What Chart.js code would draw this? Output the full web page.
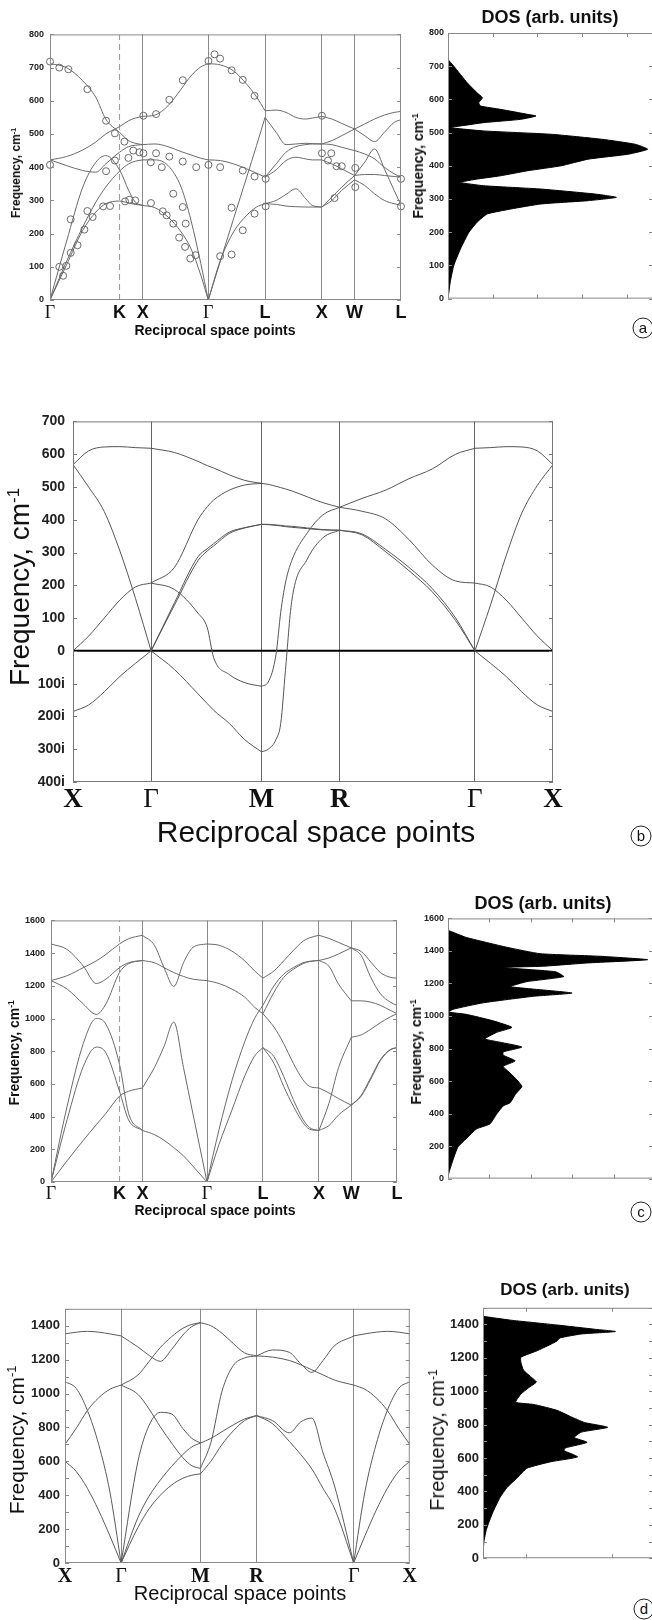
<!DOCTYPE html>
<html>
<head>
<meta charset="utf-8">
<title>Phonon dispersion and DOS</title>
<script src="https://cdn.jsdelivr.net/npm/chart.js@4.4.1/dist/chart.umd.min.js"></script>
<style>
  html, body { margin: 0; padding: 0; background: #fff; }
  body { position: relative; width: 652px; height: 1620px; overflow: hidden; }
  canvas { position: absolute; }
  .lbl { position: absolute; white-space: nowrap; color: #111; font-family: "Liberation Sans", Arial, sans-serif; line-height: 1; transform: translate(-50%, -50%); }
  .v { transform: translate(-50%, -50%) rotate(-90deg); }
  .b { font-weight: bold; }
  .circ { position: absolute; width: 19px; height: 19px; border: 1px solid #222; border-radius: 50%; font: 15px "Liberation Sans", Arial, sans-serif; line-height: 18px; text-align: center; transform: translate(-50%, -50%); color: #111; }
  sup { font-size: 60%; vertical-align: 0.6em; line-height: 0; }
</style>
</head>
<body>
<canvas id="aBand"></canvas>
<canvas id="aDos"></canvas>
<canvas id="bBand"></canvas>
<canvas id="cBand"></canvas>
<canvas id="cDos"></canvas>
<canvas id="dBand"></canvas>
<canvas id="dDos"></canvas>

<div class="lbl v b" style="left:16px;top:173px;font-size:12px">Frequency, cm<sup>-1</sup></div>
<div class="lbl b" style="left:215px;top:330px;font-size:14px">Reciprocal space points</div>
<div class="lbl b" style="left:550px;top:17px;font-size:18px">DOS (arb. units)</div>
<div class="lbl v b" style="left:418px;top:166px;font-size:14px">Frequency, cm<sup>-1</sup></div>
<div class="circ" style="left:643px;top:328px">a</div>

<div class="lbl v" style="left:20px;top:587px;font-size:28px">Frequency, cm<sup>-1</sup></div>
<div class="lbl" style="left:316px;top:832px;font-size:30px">Reciprocal space points</div>
<div class="circ" style="left:641px;top:836px">b</div>

<div class="lbl v b" style="left:14px;top:1053px;font-size:14px">Frequency, cm<sup>-1</sup></div>
<div class="lbl b" style="left:215px;top:1210px;font-size:14px">Reciprocal space points</div>
<div class="lbl b" style="left:543px;top:903px;font-size:18px">DOS (arb. units)</div>
<div class="lbl v b" style="left:416px;top:1052px;font-size:14px">Frequency, cm<sup>-1</sup></div>
<div class="circ" style="left:641px;top:1212px">c</div>

<div class="lbl v" style="left:16px;top:1440px;font-size:21px">Frequency, cm<sup>-1</sup></div>
<div class="lbl" style="left:240px;top:1593px;font-size:20px">Reciprocal space points</div>
<div class="lbl b" style="left:565px;top:1289px;font-size:17px">DOS (arb. units)</div>
<div class="lbl v" style="left:437px;top:1440px;font-size:20px">Frequency, cm<sup>-1</sup></div>
<div class="circ" style="left:644px;top:1609px">d</div>

<script>
// high symmetry points (path length along the k path)
const FCC_K = [0, 1.061, 1.414, 2.414, 3.280, 4.146, 4.646, 5.354];
const FCC_LAB = ['Γ', 'K', 'X', 'Γ', 'L', 'X', 'W', 'L'];
const SC_K = [0, 0.5, 1.207, 1.707, 2.573, 3.073];
const SC_LAB = ['X', 'Γ', 'M', 'R', 'Γ', 'X'];

// ---- panel (a): bands, one array of k per segment + branch frequencies
const aK1 = [0, 0.25, 0.5, 0.7, 0.85, 1.06, 1.2, 1.3, 1.414];
const aB1 = [
  [712, 700, 660, 610, 545, 505, 480, 472, 468],
  [422, 432, 452, 476, 500, 522, 540, 548, 553],
  [422, 405, 390, 385, 410, 445, 462, 466, 468],
  [0, 115, 220, 295, 340, 388, 410, 418, 422],
  [0, 105, 210, 265, 290, 298, 292, 288, 285],
  [0, 175, 340, 415, 435, 392, 330, 295, 285]
];
const aK2 = [1.414, 1.6, 1.8, 2.0, 2.15, 2.3, 2.414];
const aB2 = [
  [553, 557, 585, 635, 675, 702, 712],
  [468, 470, 462, 447, 437, 427, 422],
  [422, 422, 405, 340, 240, 110, 0],
  [285, 278, 250, 205, 155, 75, 0]
];
const aK3 = [2.414, 2.6, 2.8, 3.0, 3.15, 3.28];
const aB3 = [
  [712, 708, 690, 650, 612, 570],
  [422, 420, 410, 395, 382, 370],
  [0, 118, 245, 370, 465, 550],
  [0, 120, 205, 255, 280, 290]
];
const aK4 = [3.28, 3.45, 3.6, 3.75, 3.9, 4.0, 4.146];
const aB4 = [
  [570, 572, 565, 550, 545, 548, 553],
  [550, 505, 468, 470, 472, 471, 470],
  [370, 410, 445, 462, 468, 470, 470],
  [370, 392, 420, 430, 425, 422, 422],
  [290, 300, 318, 335, 305, 285, 280],
  [290, 288, 283, 281, 280, 280, 280]
];
const aK5 = [4.146, 4.3, 4.45, 4.646];
const aB5 = [
  [553, 545, 532, 515],
  [470, 480, 495, 515],
  [470, 468, 460, 450],
  [422, 410, 395, 375],
  [280, 300, 330, 362],
  [280, 310, 340, 375]
];
const aK6 = [4.646, 4.8, 4.95, 5.1, 5.25, 5.354];
const aB6 = [
  [515, 530, 545, 557, 565, 568],
  [515, 495, 477, 505, 535, 543],
  [450, 440, 425, 400, 380, 370],
  [375, 415, 455, 395, 330, 285],
  [362, 345, 320, 300, 290, 285],
  [375, 378, 378, 375, 372, 370]
];
// experimental points (open circles)
const aExpK = [0, 0.142, 0.28, 0.57, 0.855, 0.99, 1.135, 1.27, 1.364, 1.425,
  0, 0.855, 0.99, 1.196, 1.618, 1.537, 1.705, 1.82, 2.025, 2.23,
  2.417, 2.595, 1.425, 1.618, 1.82, 2.025, 2.417, 2.509, 2.595, 2.77,
  2.94, 3.12, 2.94, 3.12, 3.29, 4.148, 4.148, 4.29, 4.24, 4.37,
  4.45, 4.657, 4.34, 4.657, 5.354, 5.354, 3.29, 3.12, 2.94, 2.77,
  2.77, 2.595, 0.142, 0.2, 0.25, 0.316, 0.316, 0.42, 0.524, 0.57,
  0.65, 0.81, 0.916, 1.145, 1.21, 1.30, 1.54, 1.72, 1.78, 1.88,
  1.97, 2.06, 2.14, 2.22, 1.88, 2.025, 2.07];
const aExpF = [718, 700, 695, 635, 540, 502, 477, 450, 445, 442,
  407, 388, 420, 428, 442, 415, 400, 432, 417, 400,
  407, 400, 555, 560, 603, 662, 720, 740, 727, 692,
  663, 615, 390, 372, 365, 555, 442, 442, 420, 403,
  403, 398, 307, 340, 365, 282, 282, 260, 210, 278,
  137, 132, 100, 73, 103, 142, 243, 165, 212, 268,
  250, 282, 283, 297, 302, 300, 292, 267, 255, 230,
  188, 160, 125, 135, 320, 280, 230];
// DOS (a)
const aDosF = [0, 20, 50, 100, 150, 200, 230, 255, 270, 285, 295, 305, 315, 330, 340, 350, 360, 370, 385, 400,
  420, 435, 450, 465, 480, 495, 505, 515, 520, 530, 540, 550, 555, 570, 580, 590, 605, 620, 650, 700, 720];
const aDosV = [0, 0.02, 0.05, 0.13, 0.28, 0.47, 0.65, 0.88, 1.41, 2.08, 3.14, 3.77, 3.29, 2.08, 0.80, 0.28, 0.65, 1.18, 1.78, 2.53,
  3.14, 4.04, 4.47, 4.19, 3.44, 2.31, 0.80, 0.05, 0.28, 0.80, 1.63, 1.97, 1.78, 1.18, 0.73, 0.69, 0.77, 0.65, 0.43, 0.13, 0];

// ---- panel (b)
const bK1 = [0, 0.1, 0.2, 0.3, 0.4, 0.5];
const bB1 = [
  [568, 610, 622, 623, 620, 618],
  [568, 500, 425, 305, 160, 0],
  [0, 45, 100, 155, 195, 207],
  [-185, -165, -125, -78, -38, 0]
];
const bK2 = [0.5, 0.65, 0.8, 0.86, 0.9, 1.0, 1.1, 1.207];
const bB2 = [
  [618, 605, 578, 565, 558, 537, 520, 511],
  [207, 255, 400, 440, 460, 490, 506, 511],
  [0, 147, 287, 312, 327, 362, 376, 386],
  [0, 140, 275, 305, 320, 358, 375, 386],
  [207, 187, 115, 70, -20, -72, -97, -108],
  [0, -57, -131, -161, -181, -221, -271, -308]
];
const bK3 = [1.207, 1.25, 1.3, 1.33, 1.36, 1.4, 1.5, 1.6, 1.707];
const bB3 = [
  [511, 508, 502, 498, 494, 488, 470, 452, 438],
  [386, 386, 384, 383, 381, 380, 375, 370, 368],
  [386, 385, 383, 381, 379, 377, 373, 369, 368],
  [-108, -95, -10, 118, 207, 275, 360, 415, 438],
  [-308, -300, -270, -221, -60, 150, 280, 345, 368]
];
const bK4 = [1.707, 1.85, 2.0, 2.15, 2.3, 2.45, 2.573];
const bB4 = [
  [438, 465, 490, 525, 555, 600, 618],
  [438, 426, 403, 340, 262, 213, 207],
  [368, 357, 310, 255, 190, 100, 0],
  [368, 354, 303, 245, 180, 92, 0]
];
const bK5 = [2.573, 2.673, 2.773, 2.873, 2.973, 3.073];
const bB5 = [
  [618, 620, 623, 622, 610, 568],
  [0, 140, 290, 420, 505, 568],
  [207, 195, 155, 100, 45, 0],
  [0, -38, -78, -125, -165, -185]
];

// ---- panel (c)
const cK1 = [0, 0.25, 0.5, 0.7, 0.85, 1.06, 1.2, 1.414];
const cB1 = [
  [1232, 1262, 1311, 1352, 1392, 1456, 1488, 1509],
  [1456, 1422, 1321, 1214, 1241, 1311, 1341, 1355],
  [1232, 1180, 1089, 1025, 1089, 1281, 1335, 1355],
  [0, 464, 847, 1000, 965, 720, 420, 315],
  [0, 383, 706, 825, 790, 555, 380, 315],
  [0, 130, 255, 350, 420, 525, 555, 575]
];
const cK2 = [1.414, 1.6, 1.75, 1.9, 2.05, 2.2, 2.414];
const cB2 = [
  [1509, 1448, 1311, 1196, 1341, 1436, 1456],
  [1355, 1341, 1311, 1281, 1257, 1240, 1232],
  [575, 700, 830, 978, 700, 410, 0],
  [315, 290, 255, 210, 160, 95, 0]
];
const cK3 = [2.414, 2.6, 2.8, 3.0, 3.15, 3.28];
const cB3 = [
  [1456, 1448, 1412, 1352, 1291, 1247],
  [1232, 1214, 1180, 1130, 1069, 1029],
  [0, 320, 620, 860, 1000, 1082],
  [0, 230, 440, 650, 770, 822]
];
const cK4 = [3.28, 3.45, 3.6, 3.75, 3.9, 4.0, 4.146];
const cB4 = [
  [1247, 1291, 1352, 1416, 1473, 1493, 1509],
  [1082, 1200, 1271, 1311, 1341, 1350, 1355],
  [1029, 1160, 1251, 1301, 1335, 1348, 1355],
  [1029, 948, 847, 726, 625, 585, 575],
  [822, 726, 585, 464, 363, 323, 315],
  [822, 767, 646, 504, 383, 333, 315]
];
const cK5 = [4.146, 4.3, 4.45, 4.646];
const cB5 = [
  [1509, 1490, 1465, 1432],
  [1355, 1370, 1395, 1432],
  [1355, 1320, 1210, 1108],
  [575, 545, 510, 470],
  [315, 480, 700, 885],
  [315, 345, 410, 470]
];
const cK6 = [4.646, 4.8, 4.95, 5.1, 5.25, 5.354];
const cB6 = [
  [1432, 1410, 1345, 1280, 1252, 1247],
  [1432, 1385, 1250, 1150, 1100, 1080],
  [1108, 1108, 1100, 1080, 1050, 1030],
  [885, 900, 935, 975, 1010, 1030],
  [470, 530, 640, 750, 810, 822],
  [470, 525, 630, 745, 808, 822]
];
const cDosF = [0, 34, 115, 195, 245, 306, 336, 396, 447, 467, 517, 567, 618, 658, 690, 724, 759, 779, 809, 839,
  859, 899, 930, 970, 1010, 1024, 1041, 1081, 1121, 1141, 1169, 1181, 1211, 1242, 1272, 1298, 1306, 1326, 1346, 1367,
  1383, 1423, 1483, 1527];
const cDosV = [0, 0.02, 0.12, 0.24, 0.44, 0.69, 1.01, 1.17, 1.33, 1.50, 1.62, 1.78, 1.62, 1.46, 1.33, 1.62, 1.33, 1.33, 1.78, 1.25,
  0.89, 1.17, 1.54, 1.09, 0.44, 0.02, 0.12, 0.85, 2.06, 2.99, 1.90, 1.50, 1.90, 2.79, 2.59, 1.33, 2.30, 3.36, 4.81, 3.68,
  2.22, 1.41, 0.44, 0];

// ---- panel (d)
const dK1 = [0, 0.1, 0.2, 0.3, 0.4, 0.5];
const dB1 = [
  [1352, 1362, 1367, 1362, 1352, 1340],
  [1070, 1030, 900, 700, 420, 0],
  [700, 795, 900, 975, 1025, 1050],
  [600, 540, 440, 310, 160, 0]
];
const dK2 = [0.5, 0.65, 0.75, 0.85, 0.95, 1.05, 1.13, 1.207];
const dB2 = [
  [1340, 1275, 1225, 1190, 1260, 1345, 1395, 1418],
  [1050, 1109, 1190, 1272, 1335, 1385, 1408, 1418],
  [1050, 995, 908, 803, 708, 622, 574, 558],
  [0, 600, 813, 889, 880, 794, 736, 708],
  [0, 268, 395, 490, 570, 640, 685, 708],
  [0, 210, 320, 400, 460, 500, 518, 526]
];
const dK3 = [1.207, 1.3, 1.4, 1.5, 1.6, 1.707];
const dB3 = [
  [1418, 1400, 1355, 1295, 1240, 1222],
  [558, 710, 1015, 1165, 1210, 1222],
  [708, 735, 775, 815, 850, 870],
  [526, 600, 700, 780, 840, 870]
];
const dK4 = [1.707, 1.85, 2.0, 2.1, 2.2, 2.3, 2.4, 2.573];
const dB4 = [
  [1222, 1257, 1243, 1176, 1125, 1195, 1281, 1339],
  [1222, 1215, 1195, 1170, 1140, 1110, 1080, 1050],
  [870, 840, 768, 832, 855, 650, 460, 0],
  [870, 822, 717, 641, 555, 440, 325, 0]
];
const dK5 = [2.573, 2.673, 2.773, 2.873, 2.973, 3.073];
const dB5 = [
  [1340, 1352, 1362, 1367, 1362, 1352],
  [0, 420, 700, 900, 1030, 1070],
  [1050, 1025, 975, 900, 795, 700],
  [0, 160, 310, 440, 540, 600]
];
const dDosF = [0, 96, 173, 270, 366, 424, 482, 539, 578, 607, 645, 661, 694, 723, 755, 784, 813, 848, 886, 921,
  934, 983, 1021, 1056, 1089, 1127, 1175, 1204, 1243, 1272, 1301, 1320, 1343, 1358, 1372, 1397, 1426, 1449];
const dDosV = [0, 0.01, 0.04, 0.11, 0.20, 0.28, 0.40, 0.51, 0.79, 1.10, 0.94, 0.96, 1.21, 1.06, 1.14, 1.45, 1.18, 1.02, 0.86, 0.59,
  0.38, 0.44, 0.53, 0.62, 0.55, 0.47, 0.44, 0.44, 0.63, 0.75, 0.86, 0.90, 1.14, 1.54, 1.29, 0.86, 0.32, 0];

Chart.defaults.font.family = '"Liberation Sans", Arial, sans-serif';

// box around the plot area + small inward tick marks
const framePlugin = {
  id: 'frame',
  afterDatasetsDraw(chart, args, o) {
    if (!o || !o.on) return;
    const { ctx, chartArea: a, scales } = chart;
    ctx.save();
    ctx.strokeStyle = o.color || '#888';
    ctx.lineWidth = 1;
    ctx.strokeRect(a.left + 0.5, a.top + 0.5, a.right - a.left - 1, a.bottom - a.top - 1);
    const len = o.len || 4;
    ctx.beginPath();
    if (o.yStep) {
      const ys = scales.y;
      for (let v = ys.min; v <= ys.max + 1e-6; v += o.yStep) {
        const p = Math.round(ys.getPixelForValue(v)) + 0.5;
        ctx.moveTo(a.left, p); ctx.lineTo(a.left + len, p);
        ctx.moveTo(a.right, p); ctx.lineTo(a.right - len, p);
      }
    }
    if (o.xVals) {
      const xs = scales.x;
      o.xVals.forEach(v => {
        const p = Math.round(xs.getPixelForValue(v)) + 0.5;
        ctx.moveTo(p, a.top); ctx.lineTo(p, a.top + len);
        ctx.moveTo(p, a.bottom); ctx.lineTo(p, a.bottom - len);
      });
    }
    ctx.stroke();
    ctx.restore();
  }
};
Chart.register(framePlugin);

function place(id, box, pad) {
  const c = document.getElementById(id);
  const w = box.r - box.l + pad.l + pad.r;
  const h = box.b - box.t + pad.t + pad.b;
  c.style.left = (box.l - pad.l) + 'px';
  c.style.top = (box.t - pad.t) + 'px';
  c.style.width = w + 'px';
  c.style.height = h + 'px';
  c.width = w;
  c.height = h;
  return c;
}

function bandChart(id, box, pad, cfg) {
  const canvas = place(id, box, pad);
  const datasets = [];
  cfg.segs.forEach(([ks, brs]) => brs.forEach(f => datasets.push({
    data: ks.map((k, i) => ({ x: k, y: f[i] })),
    borderColor: cfg.lineColor, borderWidth: 1, pointRadius: 0, fill: false,
    cubicInterpolationMode: 'monotone'
  })));
  (cfg.extra || []).forEach(d => datasets.push(d));
  const last = cfg.sym.length - 1;
  new Chart(canvas, {
    type: 'line',
    data: { datasets },
    options: {
      responsive: false, animation: false, events: [], devicePixelRatio: 1,
      layout: { padding: { top: pad.t, right: pad.r, left: 0, bottom: 0 } },
      plugins: { legend: { display: false }, tooltip: { enabled: false },
        frame: { on: true, color: cfg.frameColor, yStep: cfg.tickStep, len: 4 } },
      scales: {
        x: {
          type: 'linear', min: 0, max: cfg.sym[last],
          afterBuildTicks: s => { s.ticks = cfg.sym.map(v => ({ value: v })); },
          afterFit: s => { s.height = pad.b; },
          grid: { drawTicks: false, lineWidth: 1,
            color: c => (c.index === 0 || c.index === last || (cfg.dashed && c.index === 1)) ? 'rgba(0,0,0,0)' : cfg.gridColor },
          border: { display: false },
          ticks: {
            autoSkip: false, maxRotation: 0, padding: cfg.xPad, color: '#111',
            callback: (v, i) => cfg.lab[i],
            font: c => {
              const l = cfg.lab[c.index];
              if (l === 'Γ') return { family: '"Liberation Serif", "Times New Roman", serif', size: cfg.labSize, weight: 'normal' };
              return { family: cfg.serif ? '"Liberation Serif", "Times New Roman", serif' : '"Liberation Sans", Arial, sans-serif', size: cfg.labSize, weight: 'bold' };
            }
          }
        },
        y: {
          type: 'linear', min: cfg.ymin, max: cfg.ymax,
          afterFit: s => { s.width = pad.l; },
          grid: { display: false, drawTicks: false },
          border: { display: false },
          ticks: { stepSize: cfg.labStep, includeBounds: false, autoSkip: false, padding: cfg.yPad, color: '#222',
            font: { size: cfg.ySize, weight: 'bold' },
            callback: v => v < 0 ? (-v) + 'i' : String(v) }
        }
      }
    }
  });
}

function dosChart(id, box, pad, F, V, cfg) {
  const canvas = place(id, box, pad);
  new Chart(canvas, {
    type: 'line',
    data: { datasets: [{
      data: F.map((f, i) => ({ x: V[i], y: f })),
      borderColor: '#000', backgroundColor: '#000', borderWidth: 1,
      fill: 'origin', pointRadius: 0, tension: 0.15
    }] },
    options: {
      indexAxis: 'y', responsive: false, animation: false, events: [], devicePixelRatio: 1,
      layout: { padding: { top: pad.t, right: pad.r, left: 0, bottom: 0 } },
      plugins: { legend: { display: false }, tooltip: { enabled: false },
        frame: { on: true, color: '#888', yStep: cfg.tickStep, xVals: cfg.xTicks, len: 4 } },
      scales: {
        x: { type: 'linear', min: 0, max: cfg.xmax,
          afterFit: s => { s.height = pad.b; },
          ticks: { display: false }, grid: { display: false, drawTicks: false }, border: { display: false } },
        y: { type: 'linear', min: 0, max: cfg.ymax,
          afterFit: s => { s.width = pad.l; },
          grid: { display: false, drawTicks: false }, border: { display: false },
          ticks: { stepSize: cfg.labStep, includeBounds: false, padding: cfg.yPad, color: '#222',
            font: { size: cfg.ySize, weight: 'bold' },
            callback: v => String(v) } }
      }
    }
  });
}

function vline(x, y0, y1, color, dash) {
  return { data: [{ x: x, y: y0 }, { x: x, y: y1 }], borderColor: color, borderWidth: 1,
    borderDash: dash, pointRadius: 0, fill: false, tension: 0 };
}

// (a)
bandChart('aBand', { l: 50, t: 33, r: 401, b: 300 }, { l: 50, t: 10, r: 8, b: 24 }, {
  segs: [[aK1, aB1], [aK2, aB2], [aK3, aB3], [aK4, aB4], [aK5, aB5], [aK6, aB6]],
  sym: FCC_K, lab: FCC_LAB, dashed: true, labSize: 18, xPad: 2,
  ymin: 0, ymax: 800, labStep: 100, tickStep: 100, ySize: 9, yPad: 6,
  lineColor: '#6a6a6a', gridColor: '#8a8a8a', frameColor: '#8a8a8a',
  extra: [
    vline(FCC_K[1], 0, 800, '#999', [6, 4]),
    { data: aExpK.map((k, i) => ({ x: k, y: aExpF[i] })), showLine: false, pointRadius: 3.5,
      pointBorderWidth: 1, pointBorderColor: '#6a6a6a', pointBackgroundColor: 'rgba(0,0,0,0)', clip: false }
  ]
});
dosChart('aDos', { l: 448, t: 33, r: 653, b: 302 }, { l: 48, t: 10, r: 0, b: 6 }, aDosF, aDosV, {
  xmax: 4.59, ymax: 800, labStep: 100, tickStep: 100, xTicks: [1, 2, 3, 4], ySize: 9, yPad: 4
});

// (b)
bandChart('bBand', { l: 73, t: 415, r: 553, b: 782 }, { l: 73, t: 10, r: 14, b: 36 }, {
  segs: [[bK1, bB1], [bK2, bB2], [bK3, bB3], [bK4, bB4], [bK5, bB5]],
  sym: SC_K, lab: SC_LAB, serif: true, labSize: 27, xPad: 2,
  ymin: -400, ymax: 700, labStep: 100, tickStep: 100, ySize: 14, yPad: 8,
  lineColor: '#555', gridColor: '#666', frameColor: '#777',
  extra: [{ data: [{ x: 0, y: 0 }, { x: SC_K[SC_K.length - 1], y: 0 }], borderColor: '#000', borderWidth: 2, pointRadius: 0, tension: 0 }]
});

// (c)
bandChart('cBand', { l: 51, t: 917, r: 397, b: 1182 }, { l: 51, t: 8, r: 8, b: 22 }, {
  segs: [[cK1, cB1], [cK2, cB2], [cK3, cB3], [cK4, cB4], [cK5, cB5], [cK6, cB6]],
  sym: FCC_K, lab: FCC_LAB, dashed: true, labSize: 18, xPad: 1,
  ymin: 0, ymax: 1600, labStep: 200, tickStep: 200, ySize: 9, yPad: 6,
  lineColor: '#6a6a6a', gridColor: '#8a8a8a', frameColor: '#8a8a8a',
  extra: [vline(FCC_K[1], 0, 1600, '#999', [6, 4])]
});
dosChart('cDos', { l: 448, t: 917, r: 653, b: 1182 }, { l: 48, t: 8, r: 0, b: 6 }, cDosF, cDosV, {
  xmax: 4.94, ymax: 1600, labStep: 200, tickStep: 200, xTicks: [1, 2, 3, 4], ySize: 9, yPad: 4
});

// (d)
bandChart('dBand', { l: 65, t: 1302, r: 411, b: 1563 }, { l: 65, t: 6, r: 8, b: 26 }, {
  segs: [[dK1, dB1], [dK2, dB2], [dK3, dB3], [dK4, dB4], [dK5, dB5]],
  sym: SC_K, lab: SC_LAB, serif: true, labSize: 20, xPad: 2,
  ymin: 0, ymax: 1500, labStep: 200, tickStep: 100, ySize: 13, yPad: 5,
  lineColor: '#5a5a5a', gridColor: '#8a8a8a', frameColor: '#8a8a8a'
});
dosChart('dDos', { l: 483, t: 1302, r: 653, b: 1564 }, { l: 60, t: 6, r: 0, b: 6 }, dDosF, dDosV, {
  xmax: 1.976, ymax: 1500, labStep: 200, tickStep: 100, xTicks: [0.5, 1.5], ySize: 13, yPad: 4
});
</script>
</body>
</html>
